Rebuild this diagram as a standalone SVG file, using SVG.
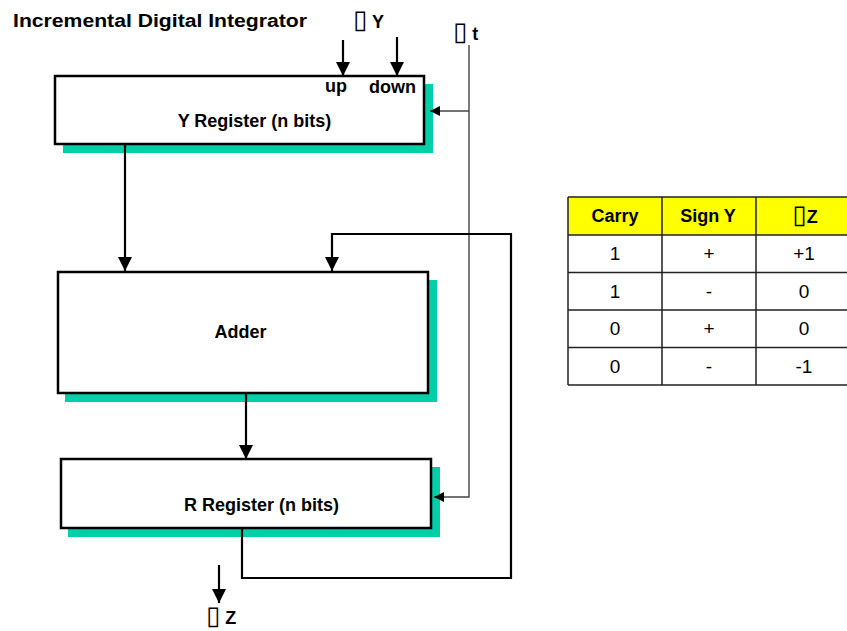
<svg xmlns="http://www.w3.org/2000/svg" width="847" height="631" viewBox="0 0 847 631">
<defs>
<style>
.t{font-family:"Liberation Sans","DejaVu Sans",Arial,sans-serif;font-weight:bold;font-size:18px;fill:#000}
.n{font-family:"Liberation Sans","DejaVu Sans",Arial,sans-serif;font-size:19px;fill:#000;text-anchor:middle}
.bx{font-family:"DejaVu Sans",sans-serif;font-weight:normal;font-size:26px}
.box{fill:#fff;stroke:#000;stroke-width:2.5}
.sh{fill:#00CFA8}
.c{fill:none;stroke:#000;stroke-width:2.2}
.ct{fill:none;stroke:#444;stroke-width:1.4}
.g{fill:none;stroke:#222;stroke-width:1.5}
</style>
<marker id="ah" markerUnits="userSpaceOnUse" markerWidth="14" markerHeight="14" refX="14" refY="7" orient="auto"><path d="M0,0 L14,7 L0,14 Z" fill="#000"/></marker>
<marker id="as" markerUnits="userSpaceOnUse" markerWidth="10" markerHeight="10" refX="10" refY="5" orient="auto"><path d="M0,0 L10,5 L0,10 Z" fill="#000"/></marker>
</defs>
<rect width="847" height="631" fill="#fff"/>
<text class="t" x="13" y="27" font-size="21" textLength="294" lengthAdjust="spacingAndGlyphs">Incremental Digital Integrator</text>
<text class="t" x="353" y="28"><tspan class="bx">▯</tspan> Y</text>
<text class="t" x="453" y="40"><tspan class="bx">▯</tspan> t</text>
<text class="t" x="206" y="624"><tspan class="bx">▯</tspan> Z</text>
<g id="yreg">
<rect class="sh" x="63" y="84" width="370" height="69"/>
<rect class="box" x="55" y="76" width="369" height="68"/>
<text class="t" x="325" y="92">up</text>
<text class="t" x="369" y="93">down</text>
<text class="t" x="254.5" y="127" text-anchor="middle">Y Register (n bits)</text>
</g>
<g id="adder">
<rect class="sh" x="65" y="280" width="372" height="122"/>
<rect class="box" x="58" y="272" width="370" height="121"/>
<text class="t" x="240.5" y="338" text-anchor="middle">Adder</text>
</g>
<g id="rreg">
<rect class="sh" x="68" y="467" width="372" height="70"/>
<rect class="box" x="61" y="459" width="370" height="69"/>
<text class="t" x="261.5" y="511" text-anchor="middle">R Register (n bits)</text>
</g>
<g id="connectors">
<path class="c" d="M343 40 V76" marker-end="url(#ah)"/>
<path class="c" d="M397 37 V76" marker-end="url(#ah)"/>
<path class="ct" d="M469 45 V497 H434" marker-end="url(#as)"/>
<path class="ct" d="M469 111 H430" marker-end="url(#as)"/>
<path class="c" d="M125 145 V271" marker-end="url(#ah)"/>
<path class="c" d="M246 394 V459" marker-end="url(#ah)"/>
<path class="c" d="M242 529 V578 H511 V234 H332 V271" marker-end="url(#ah)"/>
<path class="c" d="M219 565 V603" marker-end="url(#ah)"/>
</g>
<g id="table">
<rect x="568" y="197" width="282" height="38" fill="#FFFF00"/>
<path class="g" d="M568 197 H850 M568 235 H850 M568 272.5 H850 M568 310 H850 M568 347.5 H850 M568 385 H850 M568 197 V385 M662 197 V385 M756 197 V385"/>
<text class="t" x="615" y="222" text-anchor="middle">Carry</text>
<text class="t" x="708" y="222" text-anchor="middle">Sign Y</text>
<text class="t" x="805" y="223" text-anchor="middle"><tspan class="bx">▯</tspan>Z</text>
<text class="n" x="615" y="260">1</text><text class="n" x="709" y="260">+</text><text class="n" x="804" y="260">+1</text>
<text class="n" x="615" y="297.5">1</text><text class="n" x="709" y="297.5">-</text><text class="n" x="804" y="297.5">0</text>
<text class="n" x="615" y="335">0</text><text class="n" x="709" y="335">+</text><text class="n" x="804" y="335">0</text>
<text class="n" x="615" y="372.5">0</text><text class="n" x="709" y="372.5">-</text><text class="n" x="804" y="372.5">-1</text>
</g>
</svg>
